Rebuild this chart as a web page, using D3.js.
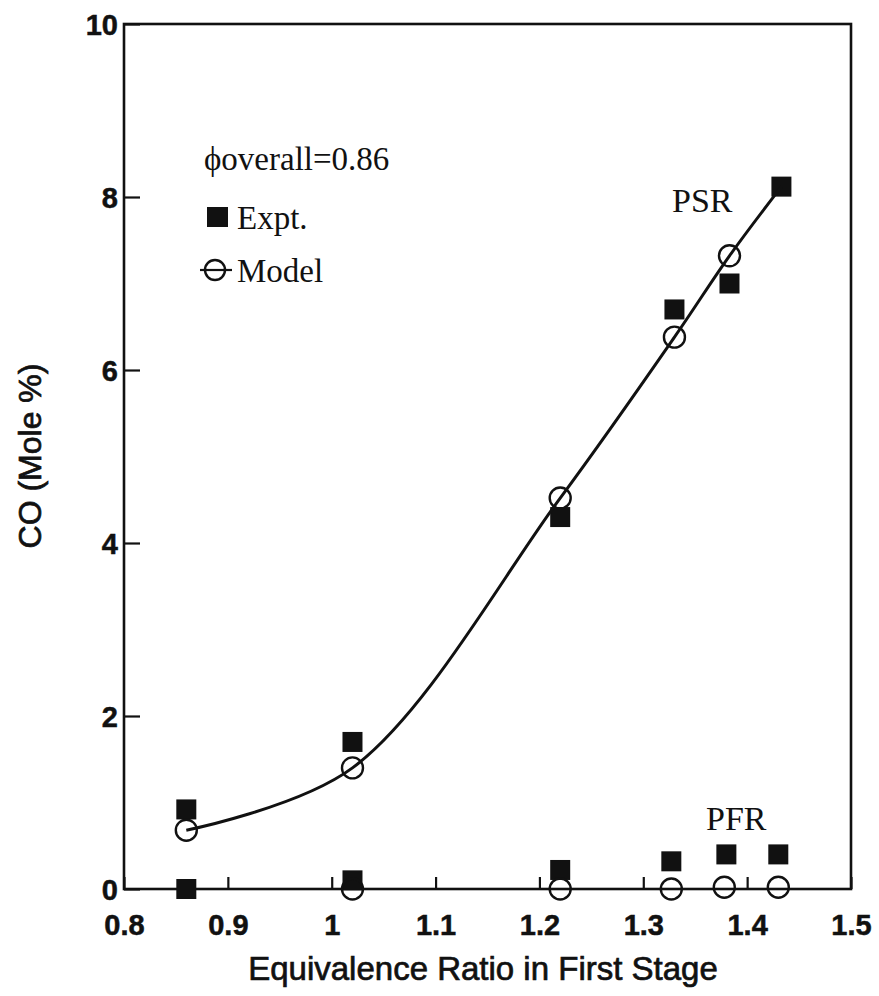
<!DOCTYPE html>
<html>
<head>
<meta charset="utf-8">
<script src="https://cdn.jsdelivr.net/npm/d3@7/dist/d3.min.js"></script>
<style>
  html, body { margin: 0; padding: 0; background: #fff; }
  svg { display: block; }
</style>
</head>
<body>
<svg id="chart" width="879" height="996"></svg>
<script>
// CO mole % versus first-stage equivalence ratio (overall phi = 0.86)
const xTicks = [0.8, 0.9, 1.0, 1.1, 1.2, 1.3, 1.4, 1.5];
const xTickLabels = ["0.8", "0.9", "1", "1.1", "1.2", "1.3", "1.4", "1.5"];
const yTicks = [0, 2, 4, 6, 8, 10];
const yTickLabels = ["0", "2", "4", "6", "8", "10"];

// PSR branch
const psrExptPhi = [0.86, 1.02, 1.22, 1.33, 1.383, 1.433];
const psrExptCO  = [0.92, 1.70, 4.30, 6.70, 7.00, 8.12];
const psrModelPhi = [0.86, 1.02, 1.22, 1.33, 1.383];
const psrModelCO  = [0.68, 1.40, 4.52, 6.38, 7.32];
// smooth model curve: model points, ending on the richest measurement
const psrCurvePhi = [0.86, 1.02, 1.22, 1.33, 1.383, 1.433];
const psrCurveCO  = [0.68, 1.40, 4.52, 6.38, 7.32, 8.12];

// PFR branch
const pfrExptPhi = [0.86, 1.02, 1.22, 1.327, 1.38, 1.43];
const pfrExptCO  = [0.0, 0.10, 0.22, 0.32, 0.40, 0.40];
const pfrModelPhi = [1.02, 1.22, 1.327, 1.378, 1.43];
const pfrModelCO  = [0.0, 0.0, 0.0, 0.02, 0.02];

const svg = d3.select("#chart");
const plotLeft = 124, plotRight = 851, plotTop = 24, plotBottom = 889;

const x = d3.scaleLinear().domain([0.8, 1.5]).range([plotLeft, plotRight]);
const y = d3.scaleLinear().domain([0, 10]).range([plotBottom, plotTop]);

const ink = "#111";
const sansBold = "'Liberation Sans', Arial, Helvetica, sans-serif";
const serif = "'Liberation Serif', 'Times New Roman', Times, serif";

// frame
svg.append("rect")
  .attr("x", plotLeft).attr("y", plotTop)
  .attr("width", plotRight - plotLeft).attr("height", plotBottom - plotTop)
  .attr("fill", "none").attr("stroke", ink).attr("stroke-width", 2.6);

// x axis: inward ticks, labels below
const xAxis = d3.axisBottom(x)
  .tickValues(xTicks)
  .tickSize(-12)
  .tickPadding(32)
  .tickFormat((d, i) => xTickLabels[i]);
const gx = svg.append("g").attr("transform", `translate(0,${plotBottom})`).call(xAxis);
gx.select(".domain").remove();
gx.selectAll(".tick line").attr("stroke", ink).attr("stroke-width", 2.2);
gx.selectAll(".tick text")
  .attr("fill", ink).attr("stroke", ink).attr("stroke-width", 0.5)
  .attr("font-family", sansBold).attr("font-weight", "bold").attr("font-size", 29)
  .attr("dy", "0")
  .attr("y", 46);

// y axis: inward ticks, labels left
const yAxis = d3.axisLeft(y)
  .tickValues(yTicks)
  .tickSize(-16)
  .tickPadding(8)
  .tickFormat((d, i) => yTickLabels[i]);
const gy = svg.append("g").attr("transform", `translate(${plotLeft},0)`).call(yAxis);
gy.select(".domain").remove();
gy.selectAll(".tick line").attr("stroke", ink).attr("stroke-width", 2.2);
gy.selectAll(".tick text")
  .attr("fill", ink).attr("stroke", ink).attr("stroke-width", 0.5)
  .attr("font-family", sansBold).attr("font-weight", "bold").attr("font-size", 29)
  .attr("x", -6).attr("dy", "0.36em");

// axis titles
svg.append("text")
  .attr("x", 483).attr("y", 980)
  .attr("text-anchor", "middle")
  .attr("font-family", sansBold).attr("font-size", 33)
  .attr("fill", ink).attr("stroke", ink).attr("stroke-width", 0.7)
  .text("Equivalence Ratio in First Stage");

svg.append("text")
  .attr("transform", "translate(41,456) rotate(-90)")
  .attr("text-anchor", "middle")
  .attr("font-family", sansBold).attr("font-size", 32)
  .attr("fill", ink).attr("stroke", ink).attr("stroke-width", 0.7)
  .text("CO (Mole %)");

// data layers
const plot = svg.append("g");
const sq = 20, r = 10.5;

function squares(phis, vals) {
  plot.append("g").selectAll("rect")
    .data(phis.map((p, i) => [p, vals[i]]))
    .join("rect")
    .attr("x", d => x(d[0]) - sq / 2)
    .attr("y", d => y(d[1]) - sq / 2)
    .attr("width", sq).attr("height", sq)
    .attr("fill", ink);
}
function circles(phis, vals) {
  plot.append("g").selectAll("circle")
    .data(phis.map((p, i) => [p, vals[i]]))
    .join("circle")
    .attr("cx", d => x(d[0]))
    .attr("cy", d => y(d[1]))
    .attr("r", r)
    .attr("fill", "none").attr("stroke", ink).attr("stroke-width", 2.4);
}

squares(psrExptPhi, psrExptCO);
squares(pfrExptPhi, pfrExptCO);
circles(psrModelPhi, psrModelCO);
circles(pfrModelPhi, pfrModelCO);

const line = d3.line()
  .x(d => x(d[0])).y(d => y(d[1]))
  .curve(d3.curveCatmullRom.alpha(0.5));
plot.append("path")
  .datum(psrCurvePhi.map((p, i) => [p, psrCurveCO[i]]))
  .attr("d", line)
  .attr("fill", "none").attr("stroke", ink).attr("stroke-width", 3);

// branch labels
svg.append("text").attr("x", 672).attr("y", 212)
  .attr("font-family", serif).attr("font-size", 34).attr("fill", ink)
  .text("PSR");
svg.append("text").attr("x", 706).attr("y", 830)
  .attr("font-family", serif).attr("font-size", 34).attr("fill", ink)
  .text("PFR");

// legend
const lg = svg.append("g");
lg.append("text").attr("x", 204).attr("y", 170)
  .attr("font-family", serif).attr("font-size", 33).attr("fill", ink)
  .text("\u03D5overall=0.86");
lg.append("rect").attr("x", 207).attr("y", 207).attr("width", 21).attr("height", 20).attr("fill", ink);
lg.append("text").attr("x", 237).attr("y", 229)
  .attr("font-family", serif).attr("font-size", 33).attr("fill", ink)
  .text("Expt.");
lg.append("line").attr("x1", 200).attr("x2", 232).attr("y1", 270).attr("y2", 270)
  .attr("stroke", ink).attr("stroke-width", 2.2);
lg.append("circle").attr("cx", 215).attr("cy", 270).attr("r", 10)
  .attr("fill", "none").attr("stroke", ink).attr("stroke-width", 2.4);
lg.append("text").attr("x", 237).attr("y", 282)
  .attr("font-family", serif).attr("font-size", 33).attr("fill", ink)
  .text("Model");
</script>
</body>
</html>
